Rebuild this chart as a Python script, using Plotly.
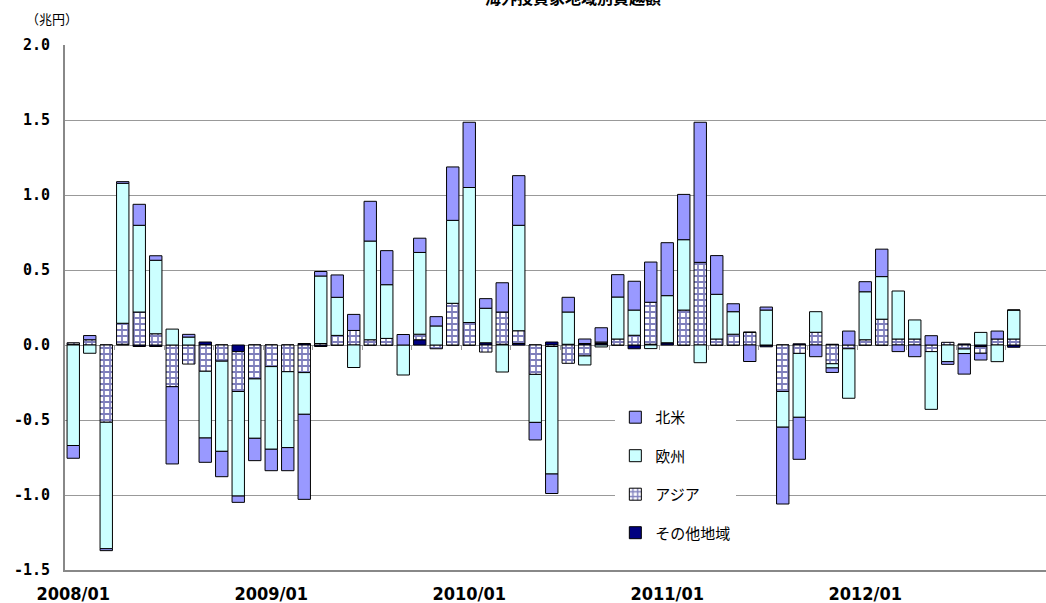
import plotly.graph_objects as go

months = [f"{y}/{m:02d}" for y in range(2008, 2013) for m in range(1, 13)][:58]

other = [0.005, 0, 0, 0.005, -0.01, -0.01, 0, 0, 0.02, 0, -0.044, 0,
         0, 0, 0.01, -0.01, 0, 0, 0, 0, 0, 0.035, 0, 0,
         0, 0.015, 0.005, 0.01, 0, 0.02, 0.005, 0.01, 0.01, 0, -0.025, 0.005,
         0.015, 0, 0, 0, 0, 0, -0.012, 0, 0.008, 0, 0.005, 0,
         0, 0, 0, 0, 0, 0, 0.007, -0.01, 0, -0.015]
asia = [0.01, 0.035, -0.515, 0.14, 0.22, 0.075, -0.278, -0.127, -0.175, -0.108, -0.266, -0.226,
        -0.144, -0.178, -0.184, 0.01, 0.064, 0.097, 0.035, 0.044, 0, 0.037, -0.025, 0.278,
        0.15, -0.047, 0.215, 0.085, -0.196, -0.01, -0.122, -0.073, 0.01, 0.04, 0.065, 0.28,
        0, 0.233, 0.551, 0.04, 0.072, 0.085, 0, -0.31, -0.056, 0.085, -0.125, -0.025,
        0.035, 0.172, 0.04, 0.04, -0.044, 0.018, -0.027, -0.045, 0.04, 0.04]
europe = [-0.67, -0.055, -0.843, 0.933, 0.578, 0.49, 0.106, 0.053, -0.445, -0.601, -0.697, -0.396,
          -0.551, -0.506, -0.278, 0.45, 0.254, -0.15, 0.658, 0.358, -0.2, 0.545, 0.127, 0.553,
          0.9, 0.23, -0.18, 0.703, -0.32, -0.85, 0.215, -0.06, -0.013, 0.28, 0.168, -0.024,
          0.314, 0.469, -0.118, 0.298, 0.15, 0, 0.233, -0.238, -0.426, 0.137, -0.028, -0.33,
          0.32, 0.284, 0.32, 0.127, -0.385, -0.111, -0.03, 0.084, -0.111, 0.193]
namerica = [-0.085, 0.028, -0.013, 0.011, 0.14, 0.03, -0.515, 0.018, -0.162, -0.169, -0.042, -0.149,
            -0.143, -0.154, -0.567, 0.03, 0.149, 0.107, 0.265, 0.227, 0.07, 0.095, 0.062, 0.356,
            0.435, 0.064, 0.195, 0.331, -0.117, -0.13, 0.098, 0.03, 0.095, 0.149, 0.192, 0.268,
            0.353, 0.302, 0.934, 0.258, 0.053, -0.11, 0.02, -0.512, -0.28, -0.078, -0.03, 0.093,
            0.067, 0.183, -0.044, -0.078, 0.062, -0.018, -0.137, -0.045, 0.053, 0]

xlabels = ["2008/01", "2009/01", "2010/01", "2011/01", "2012/01"]
yvals = [-1.5, -1.0, -0.5, 0.0, 0.5, 1.0, 1.5, 2.0]
ytext = ["-1.5", "-1.0", "-0.5", "0.0", "0.5", "1.0", "1.5", "2.0"]

fig = go.Figure()
line = dict(color="black", width=1)
fig.add_trace(go.Bar(x=months, y=other, name="その他地域", legendgroup="d", legendrank=4,
                     marker=dict(color="#000080", line=line)))
fig.add_trace(go.Bar(x=months, y=asia, name="アジア", legendgroup="c", legendrank=3,
                     marker=dict(color="white", line=line,
                                 pattern=dict(shape="+", fgcolor="#00007A", bgcolor="white",
                                              size=6, solidity=0.5, fillmode="overlay"))))
fig.add_trace(go.Bar(x=months, y=europe, name="欧州", legendgroup="b", legendrank=2,
                     marker=dict(color="#CCFFFF", line=line)))
fig.add_trace(go.Bar(x=months, y=namerica, name="北米", legendgroup="a", legendrank=1,
                     marker=dict(color="#9999FF", line=line)))

# invisible helper trace for the zero-line tick axis
fig.add_trace(go.Scatter(x=[], y=[], xaxis="x2", showlegend=False, hoverinfo="skip"))

grid = "#999999"
xr = [-0.5, -0.5 + 981 / 16.5]
fig.update_layout(
    width=1046, height=603,
    margin=dict(l=65, r=0, t=45, b=33),
    paper_bgcolor="white", plot_bgcolor="white",
    barmode="relative", bargap=0.25,
    font=dict(family="Noto Sans CJK JP", color="black"),
    showlegend=True,
    legend=dict(x=0.561, y=0.322, xanchor="left", yanchor="top",
                bgcolor="white", borderwidth=0,
                traceorder="grouped", tracegroupgap=16,
                entrywidth=130, entrywidthmode="pixels",
                font=dict(size=15, family="Noto Sans CJK JP", color="black")),
    xaxis=dict(type="category", range=xr, tickmode="array", tickvals=xlabels, ticktext=xlabels,
               showgrid=False, showline=True, linecolor="#888888", linewidth=2,
               ticks="", tickfont=dict(family="Liberation Sans Narrow, DejaVu Sans Condensed, Noto Sans",
                                       size=18, weight="bold", color="black"),
               ticklabelstandoff=6),
    xaxis2=dict(overlaying="x", anchor="free", position=1.5 / 3.5, range=xr,
                tickmode="array", tickvals=[2.5 + 3 * i for i in range(20)],
                ticks="outside", ticklen=4, tickcolor=grid, tickwidth=1,
                showticklabels=False, showgrid=False, showline=False, zeroline=False),
    yaxis=dict(range=[-1.5, 2.0], tickmode="array", tickvals=yvals, ticktext=ytext,
               showgrid=True, gridcolor=grid, gridwidth=1,
               zeroline=True, zerolinecolor=grid, zerolinewidth=1,
               showline=True, linecolor="#888888", linewidth=2, ticks="",
               tickfont=dict(family="DejaVu Sans Mono", size=15, weight="bold", color="black"),
               ticklabelstandoff=10),
    annotations=[
        dict(text="<b>海外投資家地域別買越額</b>", xref="paper", yref="paper",
             x=0.518, y=(570 + 3) / 525, xanchor="center", yanchor="middle",
             showarrow=False, font=dict(size=16, color="black")),
        dict(text="（兆円）", xref="paper", yref="paper",
             x=(52 - 65) / 981, y=(570 - 18) / 525, xanchor="center", yanchor="middle",
             showarrow=False, font=dict(size=13, color="black")),
    ],
)

fig.write_html("out.html", config={"displayModeBar": False},
               post_script="document.body.style.margin='0';document.body.style.overflow='hidden';")
